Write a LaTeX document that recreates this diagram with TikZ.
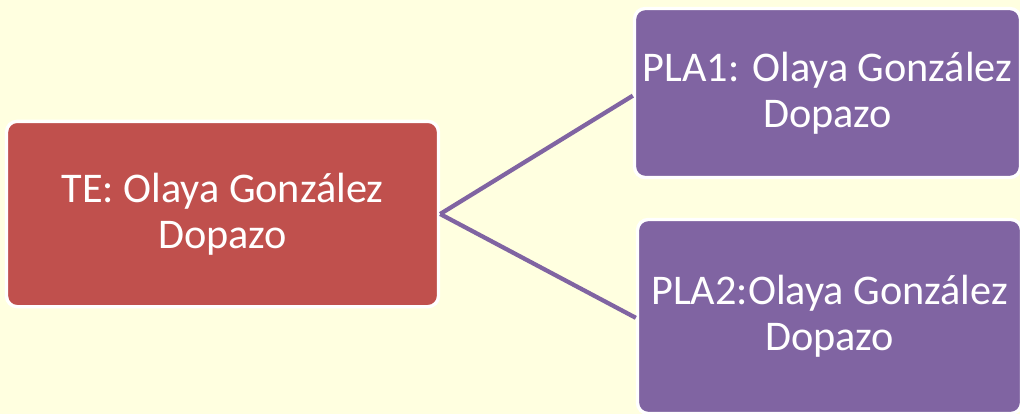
\documentclass[tikz,border=0pt]{standalone}
\usepackage{fontspec}
\setmainfont{Carlito}
\definecolor{boxred}{HTML}{C0504D}
\definecolor{boxpurple}{HTML}{8064A2}
\definecolor{paper}{HTML}{FFFFE0}
\begin{document}
\begin{tikzpicture}[x=0.75pt,y=-0.75pt]
			\tikzstyle{box} = [rounded corners=8pt,draw=white,line width=2.5pt,text=white,align=center,inner sep=0pt,font=\fontsize{31.7pt}{34.5pt}\selectfont];
			\tikzstyle{link} = [draw=boxpurple,line width=3.2pt];
			\fill[paper] (0,0) rectangle (1020,414);
			\useasboundingbox (0,0) rectangle (1020,414);
			\node[box,fill=boxred,minimum width=324pt,minimum height=139pt] (te) at (222.5,214) {TE: Olaya González\\Dopazo};
			\node[box,fill=boxpurple,minimum width=289.5pt,minimum height=126.75pt] (pla1) at (827.5,93) {PLA1: Olaya González\\Dopazo};
			\node[box,fill=boxpurple,minimum width=288pt,minimum height=145.5pt] (pla2) at (829.5,316.5) {PLA2:Olaya González\\Dopazo};
			\draw[link] (te.east) -- ([yshift=-2pt]pla1.west);
			\draw[link] (te.east) -- ([yshift=-1pt]pla2.west);
		\end{tikzpicture}
\end{document}
